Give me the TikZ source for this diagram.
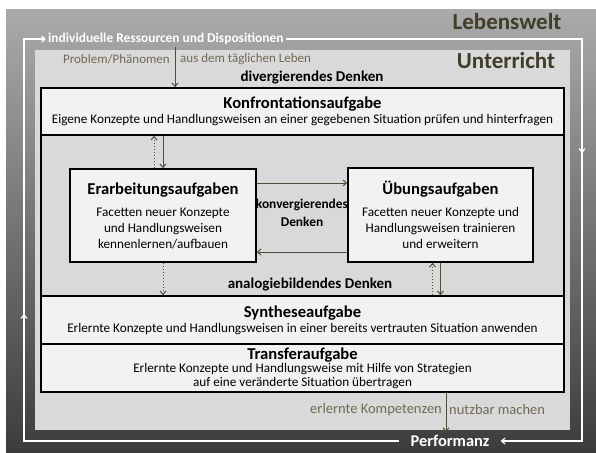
\documentclass[tikz,border=0pt]{standalone}
\usepackage{fontspec}
\setmainfont{Carlito}
\usetikzlibrary{arrows.meta}
\definecolor{lebensoben}{RGB}{170,170,170}
\definecolor{lebensunten}{RGB}{60,60,60}
\definecolor{unterricht}{RGB}{217,217,217}
\definecolor{kasten}{RGB}{242,242,242}
\definecolor{oliv}{RGB}{78,76,58}
\definecolor{olivtext}{RGB}{112,106,84}
\definecolor{titelfarbe}{RGB}{64,62,40}
\newcommand{\aufgabentitel}[1]{{\fontsize{16.6}{19}\selectfont\bfseries #1}}
\begin{document}
\begin{tikzpicture}[x=1pt,y=-1pt,
	tip/.style={-{Straight Barb[length=3.5pt,width=6pt]}},
	aufgabe/.style={draw=black, line width=1.6pt, fill=kasten, align=center, inner sep=0pt, font=\fontsize{13.2}{14}\selectfont},
	denken/.style={font=\fontsize{15}{18}\selectfont\bfseries, align=center, inner sep=1pt},
	pfeil/.style={tip, draw=oliv, line width=1pt},
	hinweis/.style={text=olivtext, font=\fontsize{13}{15}\selectfont, inner sep=1pt},
	schleife/.style={tip, draw=white, line width=1.2pt},
	weiss/.style={text=white, font=\bfseries\fontsize{13.4}{16}\selectfont},
	welt/.style={text=titelfarbe, font=\bfseries\fontsize{23}{26}\selectfont}]
	\useasboundingbox (0,0) rectangle (596,452);
	\fill[white] (0,0) rectangle (596,452);
	% Lebenswelt und Unterricht
	\shade[top color=lebensoben, bottom color=lebensunten] (6,10) rectangle (596,452);
	\fill[unterricht] (35,50) rectangle (570,430);
	\node[welt] (lebenswelt) at (507,22) {Lebenswelt};
	\node[welt] (unterricht) at (506,61) {Unterricht};
	% Aufgaben
	\draw[line width=1.6pt, fill=unterricht] (41,135) rectangle (564,296);
	\node[aufgabe, minimum width=523pt, minimum height=47pt] (konfro) at (302.5,111.5)
		{\aufgabentitel{Konfrontationsaufgabe}\\[1pt]Eigene Konzepte und Handlungsweisen an einer gegebenen Situation prüfen und hinterfragen};
	\node[aufgabe, minimum width=523pt, minimum height=48pt] (synth) at (302.5,320)
		{\aufgabentitel{Syntheseaufgabe}\\[1pt]Erlernte Konzepte und Handlungsweisen in einer bereits vertrauten Situation anwenden};
	\node[aufgabe, minimum width=523pt, minimum height=48pt] (transfer) at (302.5,368)
		{\aufgabentitel{Transferaufgabe}\\[-1pt]Erlernte Konzepte und Handlungsweise mit Hilfe von Strategien\\auf eine veränderte Situation übertragen};
	\node[aufgabe, minimum width=186pt, minimum height=93pt, font=\fontsize{13.2}{16}\selectfont] (erarb) at (163,215.5)
		{\aufgabentitel{Erarbeitungsaufgaben}\\[6pt]Facetten neuer Konzepte\\und Handlungsweisen\\kennenlernen/aufbauen};
	\node[aufgabe, minimum width=185pt, minimum height=94pt, font=\fontsize{13.2}{16}\selectfont] (uebung) at (440.5,215)
		{\aufgabentitel{Übungsaufgaben}\\[6pt]Facetten neuer Konzepte und\\Handlungsweisen trainieren\\und erweitern};
	% Denken
	\node[denken] (divergierend) at (312,78) {divergierendes Denken};
	\node[denken, font=\fontsize{13.4}{18}\selectfont\bfseries] (konvergierend) at (302,213) {konvergierendes\\Denken};
	\node[denken] (analogie) at (310,285) {analogiebildendes Denken};
	% Verbindungen
	\draw[pfeil] (konfro.south -| erarb.north) -- (erarb.north);
	\draw[pfeil, dotted] ([xshift=-9pt]erarb.north) -- ([xshift=-9pt]erarb.north |- konfro.south);
	\draw[pfeil] (erarb.east |- 0,183) -- (uebung.west |- 0,183);
	\draw[pfeil] (uebung.west |- 0,252) -- (erarb.east |- 0,252);
	\draw[pfeil, dotted] (erarb.south) -- (erarb.south |- synth.north);
	\draw[pfeil] (uebung.south) -- (uebung.south |- synth.north);
	\draw[pfeil, dotted] ([xshift=-8pt]uebung.south |- synth.north) -- ([xshift=-8pt]uebung.south);
	% Eingang und Ausgang
	\coordinate (problem) at (175,47);
	\draw[pfeil] (problem) -- (problem |- konfro.north);
	\node[hinweis, anchor=east] (phaenomen) at (171,59) {Problem/Phänomen};
	\node[hinweis, anchor=west] (alltag) at (179,59) {aus dem täglichen Leben};
	\coordinate (kompetenz) at (446,432);
	\draw[pfeil] (kompetenz |- transfer.south) -- (kompetenz);
	\node[hinweis, anchor=east, font=\fontsize{14.5}{16}\selectfont] (erlernt) at (443,410) {erlernte Kompetenzen};
	\node[hinweis, anchor=west, font=\fontsize{14.5}{16}\selectfont] (nutzbar) at (448,410) {nutzbar machen};
	% Kreislauf
	\node[weiss, anchor=west, inner xsep=2pt] (ressourcen) at (46,39) {individuelle Ressourcen und Dispositionen};
	\node[weiss, inner xsep=11pt, font=\bfseries\fontsize{16.4}{18}\selectfont] (perf) at (450,441) {Performanz};
	\draw[schleife] (perf.west) -- (24,441) -- (24,314);
	\draw[schleife] (24,318) -- (24,39) -- (ressourcen.west);
	\draw[schleife] (ressourcen.east) -- (582,39) -- (582,153);
	\draw[schleife] (582,150) -- (582,441) -- (perf.east);
\end{tikzpicture}
\end{document}
